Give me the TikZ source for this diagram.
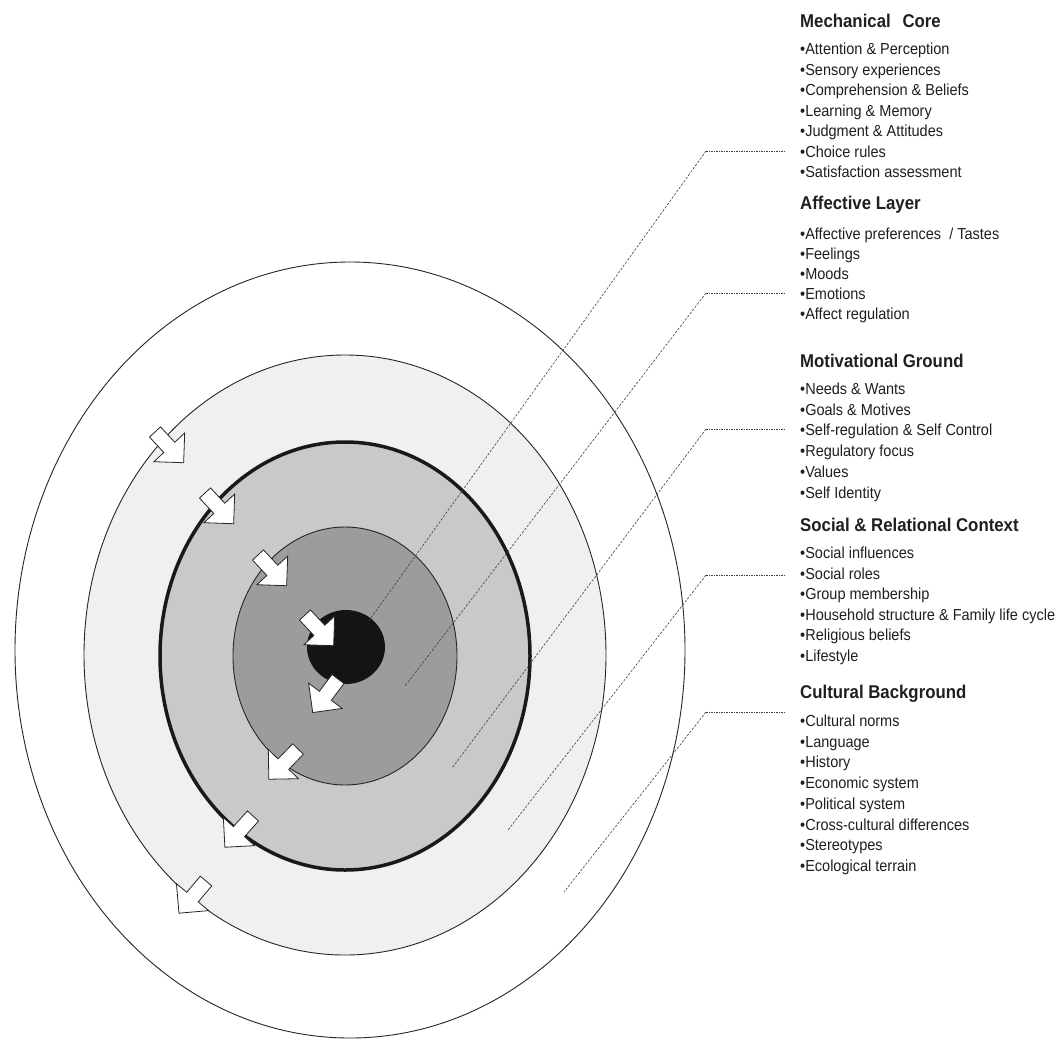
\documentclass[tikz,border=0pt]{standalone}
\usepackage{fontspec}
\setmainfont{Liberation Sans}
\usepackage{graphicx}
\newcommand\tallbox[1]{\scalebox{1}[1.1]{#1}}
\begin{document}
\begin{tikzpicture}[x=1pt,y=-1pt,
  ringline/.style={draw=black!85, line width=0.9pt},
  leader/.style={draw=black!75, line width=0.6pt, dash pattern=on 2.5pt off 1.5pt},
  leaderh/.style={draw=black!75, line width=0.6pt, dash pattern=on 1.5pt off 1pt},
  item/.style={anchor=base west, inner sep=0pt, font=\fontsize{14.5}{16}\selectfont, text=black!88},
  head/.style={anchor=base west, inner sep=0pt, font=\fontsize{16.8}{18}\selectfont\bfseries, text=black!88},
  blockarrow/.pic={\draw[draw=black!85, fill=white, line width=0.8pt, line join=miter]
    (0,-7.5) -- (21,-7.5) -- (21,-21) -- (42,0) -- (21,21) -- (21,7.5) -- (0,7.5) -- cycle;}
]
\useasboundingbox (0,0) rectangle (1064,1039);
\fill[white] (0,0) rectangle (1064,1039);

% nested layers, outermost first
\draw[ringline, fill=white] (350,650) ellipse [x radius=335, y radius=388];
\draw[ringline, fill=black!6] (345,655) ellipse [x radius=261, y radius=300];
\draw[draw=black!90, line width=3.5pt, fill=black!21] (345,656) ellipse [x radius=185, y radius=214];
\draw[ringline, fill=black!39] (345,656) ellipse [x radius=112, y radius=129];
\fill[black!92] (346,647) ellipse [x radius=39, y radius=37];

% leader lines from the lists into the layers
\coordinate (c1a) at (785,151); \coordinate (c1b) at (706,151); \coordinate (c1c) at (368,622);
\coordinate (c2a) at (785,293); \coordinate (c2b) at (706,293); \coordinate (c2c) at (405,686);
\coordinate (c3a) at (785,429); \coordinate (c3b) at (706,429); \coordinate (c3c) at (452,768);
\coordinate (c4a) at (785,575); \coordinate (c4b) at (706,575); \coordinate (c4c) at (508,830);
\coordinate (c5a) at (785,712); \coordinate (c5b) at (706,712); \coordinate (c5c) at (564,892);
\foreach \i in {1,...,5}{
  \draw[leaderh] (c\i a) -- (c\i b);
  \draw[leader] (c\i b) -- (c\i c);
}

% inward arrows (upper left)
\pic (ai1) [rotate=-47] at (155,432) {blockarrow};
\pic (ai2) [rotate=-47] at (205,493) {blockarrow};
\pic (ai3) [rotate=-47] at (258,555) {blockarrow};
\pic (ai4) [rotate=-47] at (305,615) {blockarrow};
% outward arrows (lower left)
\pic (ao1) [rotate=-127] at (338,679) {blockarrow};
\pic (ao2) [rotate=-134] at (298,749) {blockarrow};
\pic (ao3) [rotate=-132] at (253,816) {blockarrow};
\pic (ao4) [rotate=-130] at (206,881) {blockarrow};

% text column
\node[head] (hm) at (800,27) {\tallbox{Mechanical\hspace{0.7em}Core}};
\foreach \t [count=\k from 0] in {Attention \& Perception, Sensory experiences,
  Comprehension \& Beliefs, Learning \& Memory, Judgment \& Attitudes,
  Choice rules, Satisfaction assessment}
  \node[item] (m\k) at (800,54.5+20.5*\k) {\tallbox{•\t}};

\node[head] (ha) at (800,209) {\tallbox{Affective Layer}};
\foreach \t [count=\k from 0] in {Affective preferences\ \ / Tastes, Feelings,
  Moods, Emotions, Affect regulation}
  \node[item] (a\k) at (800,239+20.2*\k) {\tallbox{•\t}};

\node[head] (hg) at (800,367) {\tallbox{Motivational Ground}};
\foreach \t [count=\k from 0] in {Needs \& Wants, Goals \& Motives,
  Self-regulation \& Self Control, Regulatory focus, Values, Self Identity}
  \node[item] (g\k) at (800,394.5+20.7*\k) {\tallbox{•\t}};

\node[head] (hs) at (800,531) {\tallbox{Social \& Relational Context}};
\foreach \t [count=\k from 0] in {Social influences, Social roles,
  Group membership, Household structure \& Family life cycle,
  Religious beliefs, Lifestyle}
  \node[item] (s\k) at (800,558.5+20.6*\k) {\tallbox{•\t}};

\node[head] (hc) at (800,698) {\tallbox{Cultural Background}};
\foreach \t [count=\k from 0] in {Cultural norms, Language, History,
  Economic system, Political system, Cross-cultural differences,
  Stereotypes, Ecological terrain}
  \node[item] (c\k) at (800,726.5+20.7*\k) {\tallbox{•\t}};
\end{tikzpicture}
\end{document}
